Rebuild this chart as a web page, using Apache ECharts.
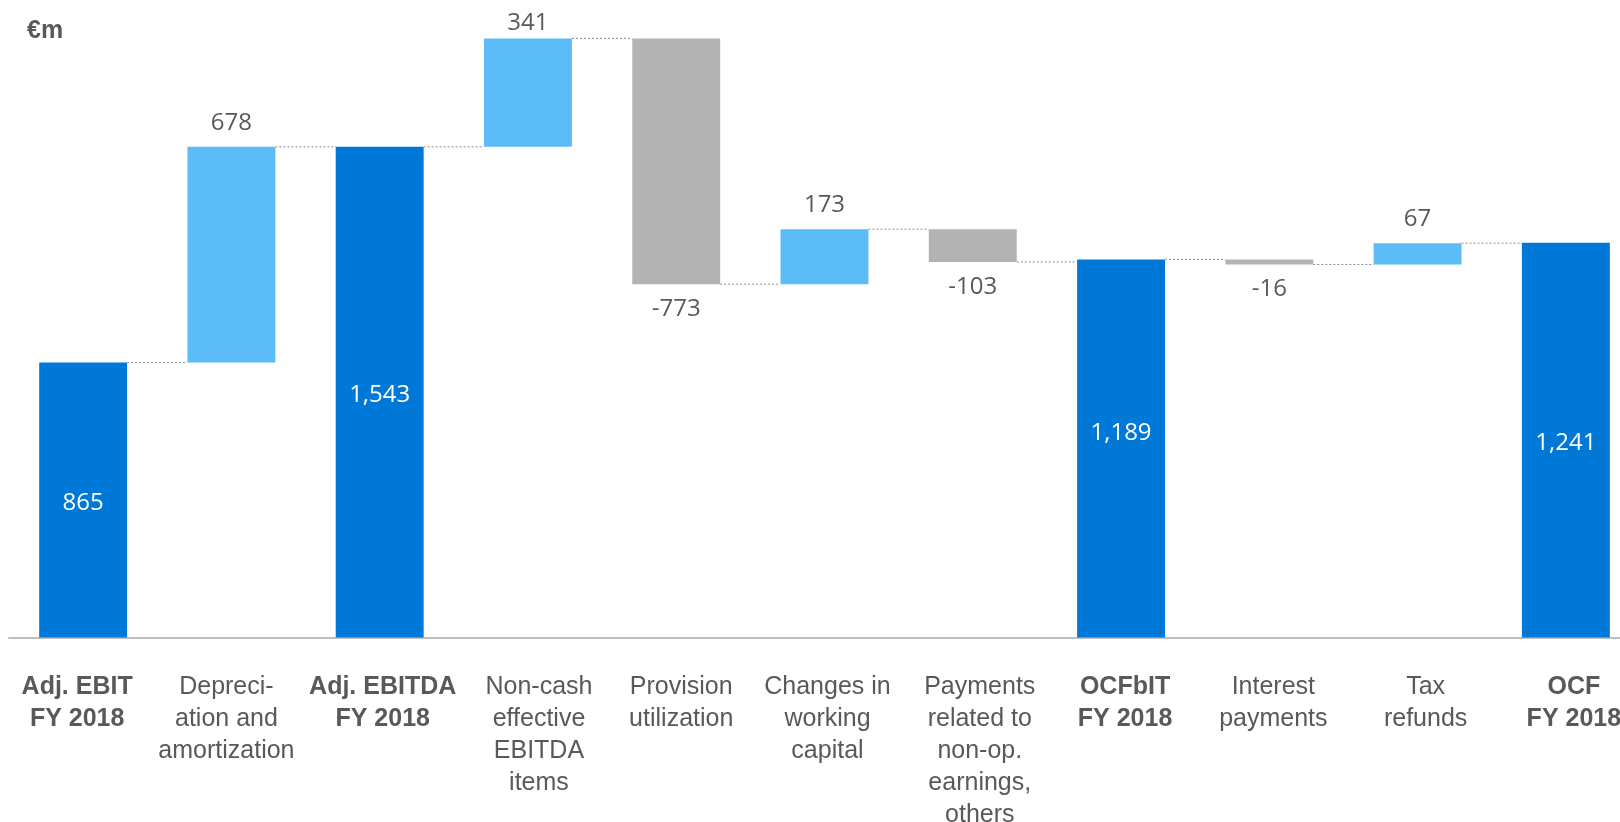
<!DOCTYPE html>
<html>
<head>
<meta charset="utf-8">
<script src="https://cdn.jsdelivr.net/npm/echarts@6/dist/echarts.min.js"></script>
<style>
  html, body { margin: 0; padding: 0; background: #fff; }
  #chart { width: 1620px; height: 822px; }
</style>
</head>
<body>
<div id="chart"></div>
<script>
// categories (bold ones are totals)
const categories = [
  'Adj. EBIT\nFY 2018',
  'Depreci-\nation and\namortization',
  'Adj. EBITDA\nFY 2018',
  'Non-cash\neffective\nEBITDA\nitems',
  'Provision\nutilization',
  'Changes in\nworking\ncapital',
  'Payments\nrelated to\nnon-op.\nearnings,\nothers',
  'OCFbIT\nFY 2018',
  'Interest\npayments',
  'Tax\nrefunds',
  'OCF\nFY 2018'
]
// €m values: totals are absolute, the rest are changes
const values = [865, 678, 1543, 341, -773, 173, -103, 1189, -16, 67, 1241]
const isTotal = [true, false, true, false, false, false, false, true, false, false, true]

const DARK = '#0078d7'
const LIGHT = '#5bbcf6'
const GREY = '#b3b3b3'
const TEXT = '#595959'
const BAR_FRACTION = 0.593
// the label boxes in the source are not exactly centred under the bars
const labelShift = [-6, -5, 3, 11, 5, 3, 7, 4, 4, 8, 8]

// build the floating bars
const baseData = []
const barData = []
const connectors = []
let level = 0
values.forEach((v, i) => {
  let start, end
  if (isTotal[i]) {
    start = 0
    end = v
  } else {
    start = level
    end = level + v
  }
  baseData.push(Math.min(start, end))
  const item = {
    value: Math.abs(end - start),
    itemStyle: { color: isTotal[i] ? DARK : (v >= 0 ? LIGHT : GREY) },
    label: {}
  }
  if (isTotal[i]) {
    item.label = { position: 'inside', color: '#fff', offset: [0, i === 7 ? -15 : 3] }
  } else if (v >= 0) {
    item.label = { position: 'top', distance: i === 3 ? 3 : 12 }
  } else {
    item.label = { position: 'bottom', distance: 13 }
  }
  barData.push(item)
  level = end
  if (i < values.length - 1) connectors.push([i, level])
})

const fmt = (n) => n.toLocaleString('en-US')

const chart = echarts.init(document.getElementById('chart'))
chart.setOption({
  animation: false,
  title: {
    text: '€m',
    left: 22,
    top: 14,
    textStyle: { fontFamily: 'Liberation Sans, Arial', fontSize: 25, fontWeight: 'bold', color: TEXT }
  },
  grid: { left: 9, width: 1631, top: 1.5, bottom: 184.5, outerBoundsMode: 'none', containLabel: false },
  xAxis: {
    type: 'category',
    data: categories.map((c, i) => {
      const s = labelShift[i]
      return {
        value: c,
        textStyle: {
          fontWeight: isTotal[i] ? 'bold' : 'normal',
          padding: s >= 0 ? [0, 0, 0, 2 * s] : [0, -2 * s, 0, 0]
        }
      }
    }),
    axisLine: { lineStyle: { color: '#bfbfbf', width: 2 } },
    axisTick: { show: false },
    axisLabel: {
      interval: 0,
      margin: 34,
      color: TEXT,
      fontFamily: 'Liberation Sans, Arial',
      fontSize: 25,
      lineHeight: 32,
      align: 'center'
    }
  },
  yAxis: {
    type: 'value',
    min: 0,
    max: 2000,
    show: false,
    splitLine: { show: false }
  },
  series: [
    {
      type: 'bar',
      stack: 'wf',
      barWidth: (BAR_FRACTION * 100) + '%',
      itemStyle: { color: 'transparent' },
      emphasis: { disabled: true },
      data: baseData
    },
    {
      type: 'bar',
      stack: 'wf',
      barWidth: (BAR_FRACTION * 100) + '%',
      label: {
        show: true,
        fontFamily: 'Open Sans',
        fontSize: 24,
        color: TEXT,
        formatter: (p) => fmt(values[p.dataIndex])
      },
      data: barData
    },
    {
      type: 'custom',
      silent: true,
      encode: { x: 0, y: 1 },
      renderItem: (params, api) => {
        const i = api.value(0)
        const lvl = api.value(1)
        const half = api.size([1, 0])[0] * BAR_FRACTION / 2
        const p0 = api.coord([i, lvl])
        const p1 = api.coord([i + 1, lvl])
        return {
          type: 'line',
          shape: { x1: p0[0] + half, y1: p0[1], x2: p1[0] - half, y2: p1[1] },
          style: { stroke: '#8c8c8c', lineWidth: 1, lineDash: [2, 2] }
        }
      },
      data: connectors
    }
  ]
})
</script>
</body>
</html>
